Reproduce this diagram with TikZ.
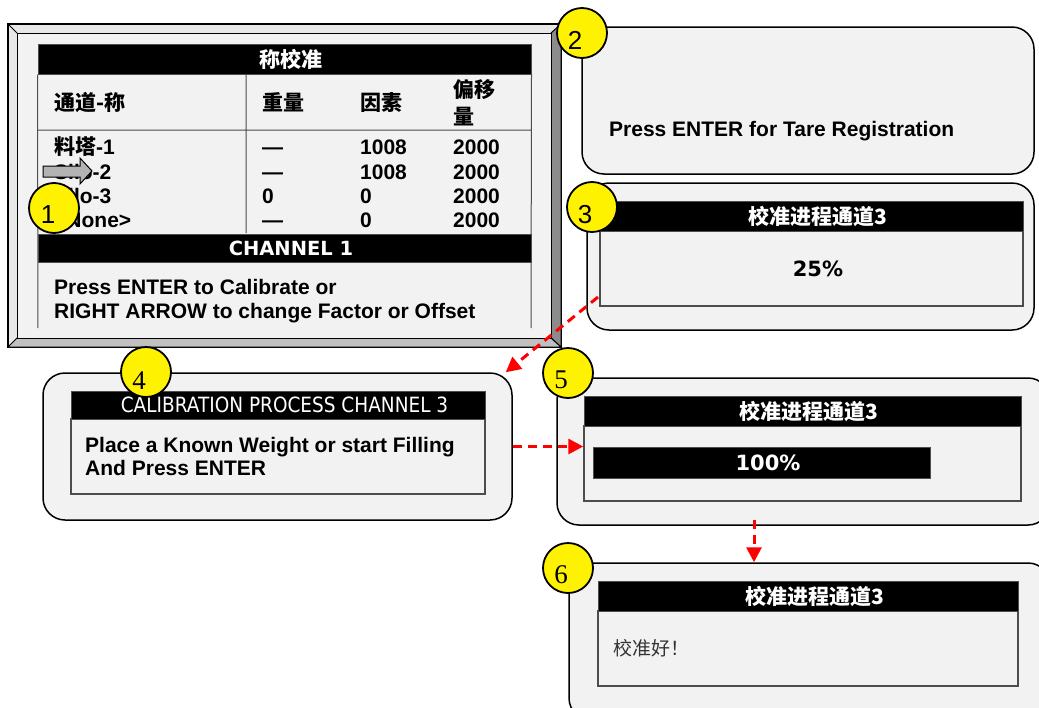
\documentclass[tikz,border=0pt]{standalone}
\usepackage{fontspec}
\setmainfont{Liberation Sans}
\newfontfamily\cjk{Noto Sans CJK SC}
\newfontfamily\verdana{DejaVu Sans}
\newfontfamily\tahoma[FakeStretch=0.88]{DejaVu Sans}
\newfontfamily\serifnum{Liberation Serif}
\usetikzlibrary{arrows.meta}
\definecolor{panelgray}{HTML}{F2F2F2}
\definecolor{bevellight}{HTML}{E8E8E8}
\definecolor{beveldark}{HTML}{8C8C8C}
\definecolor{bevelmid}{HTML}{C0C0C0}
\definecolor{screenline}{HTML}{4D4D4D}
\definecolor{pointergray}{HTML}{B3B3B3}
\definecolor{okgray}{HTML}{333333}

\begin{document}
\begin{tikzpicture}
[ x=1pt, y=-1pt
, panel/.style={rectangle, rounded corners=22pt, draw, line width=1.5pt, fill=panelgray, inner sep=0pt}
, screen/.style={rectangle, fill=panelgray, draw=screenline, line width=1.5pt, inner sep=0pt}
, titlebar/.style={rectangle, fill=black, draw=screenline, line width=1pt, inner sep=0pt, text=white, font=\cjk\bfseries\fontsize{21}{25}\selectfont, execute at begin node={\hspace*{13pt}}}
, cell/.style={anchor=west, inner sep=0pt, text height=15pt, text depth=0pt, font=\bfseries\fontsize{21}{25}\selectfont}
, cjkcell/.style={cell, font=\cjk\bfseries\fontsize{21}{25}\selectfont}
, percent/.style={inner sep=0pt, font=\verdana\bfseries\fontsize{21}{25}\selectfont}
, badge/.style={circle, draw, line width=1.8pt, fill=yellow, minimum size=50pt, inner sep=0pt}
, num/.style={inner sep=0pt, font=\fontsize{26}{26}\selectfont}
, serifnum/.style={inner sep=0pt, font=\serifnum\fontsize{27}{27}\selectfont}
, flow/.style={draw=red, line width=3pt, dash pattern=on 9pt off 6pt, -{Triangle[length=15pt,width=15pt]}}
]
\useasboundingbox (0,0) rectangle (1039,707);

% Screen 1: bevelled frame
\draw[line width=1.5pt, fill=bevellight] (8,24) rectangle (561,347);
\draw[line width=1pt, fill=beveldark] (551,33) -- (561,24) -- (561,347) -- (551,338) -- cycle;
\draw[line width=1pt, fill=bevelmid] (8,347) -- (17,338) -- (551,338) -- (561,347) -- cycle;
\draw[line width=1pt, fill=panelgray] (17,33) rectangle (551,338);
\draw[line width=1pt] (8,24) -- (17,33);

% Screen 1: table
\node[titlebar, minimum width=493pt, minimum height=30pt] (t1) at (284.5,59) {称校准};
\draw[screenline, line width=1pt] (t1.south west) -- (38,328) (t1.south east) -- (531,328)
  (38,130) -- (531,130) (246,74) -- (246,233);
\node[cjkcell] (h1) at (54,103) {通道-称};
\node[cjkcell] (h2) at (262,103) {重量};
\node[cjkcell] (h3) at (360,103) {因素};
\node[cjkcell] (h4) at (453,90) {偏移};
\node[cjkcell] (h5) at (453,117) {量};
\node[cell] (n1) at (54,147) {{\cjk 料塔}-1};
\node[cell] (n2) at (54,172) {Silo-2};
\node[cell] (n3) at (54,196) {Silo-3};
\node[cell] (n4) at (54,220) {<None>};
\foreach \y/\w/\f [count=\i] in {147/—/1008, 172/—/1008, 196/0/0, 220/—/0} {
  \node[cell] (w\i) at (262,\y) {\w};
  \node[cell] (f\i) at (360,\y) {\f};
  \node[cell] (o\i) at (453,\y) {2000};
}
\node[titlebar, font=\verdana\bfseries\fontsize{19.5}{24}\selectfont, minimum width=493pt, minimum height=28pt] (c1) at (284.5,248) {CHANNEL 1};
\node[cell] (msg1) at (54,287) {Press ENTER to Calibrate or};
\node[cell] (msg2) at (54,311) {RIGHT ARROW to change Factor or Offset};
\draw[line width=1pt, fill=pointergray] (43,166) -- (80,166) -- (80,158) -- (92,171)
  -- (80,184) -- (80,177) -- (43,177) -- cycle;

% Screen 2
\node[panel, minimum width=452pt, minimum height=147pt] (p2) at (808,100.5) {};
\node[cell] (tare) at (609,129) {Press ENTER for Tare Registration};

% Screen 3
\node[panel, minimum width=447pt, minimum height=147pt] (p3) at (810.5,256.5) {};
\node[screen, minimum width=423pt, minimum height=75pt] (s3) at (811.5,268.5) {};
\node[titlebar, minimum width=423pt, minimum height=30pt] (t3) at (811.5,216) {校准进程通道3};
\node[percent] (pc3) at (818,269) {25\%};

% Screen 4
\node[panel, minimum width=469pt, minimum height=147pt] (p4) at (277.5,446.5) {};
\node[screen, minimum width=414pt, minimum height=75pt] (s4) at (278,456.5) {};
\node[titlebar, font=\tahoma\fontsize{21}{25}\selectfont, minimum width=414pt, minimum height=28pt] (t4) at (278,405) {CALIBRATION PROCESS CHANNEL 3};
\node[cell] (place1) at (85,445) {Place a Known Weight or start Filling};
\node[cell] (place2) at (85,468) {And Press ENTER};

% Screen 5
\node[panel, minimum width=493pt, minimum height=147pt] (p5) at (803.5,451.5) {};
\node[screen, minimum width=437pt, minimum height=75pt] (s5) at (802.5,463.5) {};
\node[titlebar, minimum width=437pt, minimum height=30pt] (t5) at (802.5,411) {校准进程通道3};
\node[percent, rectangle, fill=black, draw=screenline, line width=1pt, text=white, minimum width=337pt, minimum height=31pt, execute at begin node={\hspace*{13pt}}] (bar5) at (761.5,462.5) {100\%};

% Screen 6
\node[panel, minimum width=481pt, minimum height=157pt] (p6) at (809.5,641.5) {};
\node[screen, minimum width=420pt, minimum height=75pt] (s6) at (808,648.5) {};
\node[titlebar, minimum width=420pt, minimum height=30pt] (t6) at (808,596) {校准进程通道3};
\node[anchor=west, inner sep=0pt, text=okgray, font=\cjk\fontsize{19}{23}\selectfont] (ok6) at (613,648) {校准好！};

% Flow between screens
\coordinate (from3) at (598,297);
\coordinate (drop5) at (754,520);
\draw[flow] (from3) -- ([xshift=-7pt]p4.north east);
\draw[flow] (p4.east) -- (p4.east -| s5.west);
\draw[flow] (drop5) -- (drop5 |- p6.north);

% Step badges
\node[badge, label={[num, xshift=-6pt, yshift=-7pt]center:1}] (b1) at (54,208) {};
\node[badge, label={[num, xshift=-7pt, yshift=-7pt]center:2}] (b2) at (582,33) {};
\node[badge, label={[num, xshift=-7pt, yshift=-8pt]center:3}] (b3) at (592,207) {};
\node[badge, label={[serifnum, xshift=-7pt, yshift=-9pt]center:4}] (b4) at (146,372) {};
\node[badge, label={[serifnum, xshift=-7pt, yshift=-7pt]center:5}] (b5) at (568,373) {};
\node[badge, label={[serifnum, xshift=-7pt, yshift=-7pt]center:6}] (b6) at (568,568) {};
\end{tikzpicture}
\end{document}
